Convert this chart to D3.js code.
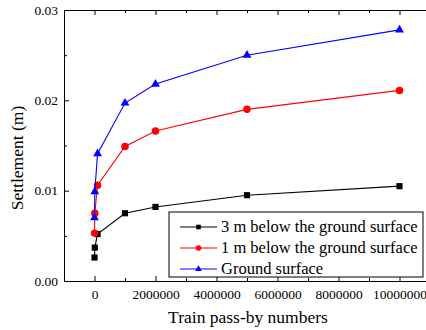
<!DOCTYPE html>
<html>
<head>
<meta charset="utf-8">
<script src="https://cdn.jsdelivr.net/npm/d3@7"></script>
<style>
  body { margin: 0; background: #fff; }
</style>
</head>
<body>
<div id="chart-area"></div>
<script>
// data
const passes = [1000, 10000, 100000, 1000000, 2000000, 5000000, 10000000];
const below3m = [0.0026, 0.0037, 0.0052, 0.0075, 0.0082, 0.0095, 0.0105];
const below1m = [0.0053, 0.0075, 0.0106, 0.0149, 0.0166, 0.0190, 0.0211];
const ground = [0.0070, 0.0099, 0.0141, 0.0197, 0.0218, 0.0250, 0.0278];
const seriesNames = ['3 m below the ground surface', '1 m below the ground surface', 'Ground surface'];
const seriesColors = ['#000000', '#ff0000', '#0000ff'];
const seriesShapes = ['square', 'circle', 'triangle'];
const xTicks = [0, 2000000, 4000000, 6000000, 8000000, 10000000];
const xMinorTicks = [-1000000, 1000000, 3000000, 5000000, 7000000, 9000000, 11000000];
const yTicks = [0, 0.01, 0.02, 0.03];
const yMinorTicks = [0.005, 0.015, 0.025];

const width = 426;
const height = 330;
const margin = { left: 64, right: -4, top: 10, bottom: 49 };
const chartWidth = width - margin.left - margin.right;
const chartHeight = height - margin.top - margin.bottom;

const svg = d3.select('#chart-area')
    .append('svg')
    .attr('width', width)
    .attr('height', height);

const chartGroup = svg.append('g')
    .attr('transform', `translate(${margin.left}, ${margin.top})`);

// Scales
const x = d3.scaleLinear()
    .domain([-1000000, 11000000])
    .range([0, chartWidth]);

const y = d3.scaleLinear()
    .domain([0, 0.03])
    .range([chartHeight, 0]);

// Axes (ticks pointing inward)
chartGroup.append('g')
    .attr('transform', `translate(0, ${chartHeight})`)
    .call(d3.axisBottom(x).tickValues(xTicks).tickSizeInner(-5).tickSizeOuter(0)
        .tickPadding(8).tickFormat(d3.format('d')));

chartGroup.append('g')
    .attr('transform', `translate(0, ${chartHeight})`)
    .call(d3.axisBottom(x).tickValues(xMinorTicks).tickSizeInner(-3).tickSizeOuter(0).tickFormat(''))
    .call((g) => g.select('.domain').remove());

chartGroup.append('g')
    .call(d3.axisLeft(y).tickValues(yTicks).tickSizeInner(-5).tickSizeOuter(0)
        .tickPadding(6).tickFormat(d3.format('.2f')));

chartGroup.append('g')
    .call(d3.axisLeft(y).tickValues(yMinorTicks).tickSizeInner(-3).tickSizeOuter(0).tickFormat(''))
    .call((g) => g.select('.domain').remove());

// Top mirror axis
chartGroup.append('g')
    .call(d3.axisTop(x).tickValues(xTicks).tickSizeInner(-5).tickSizeOuter(0).tickFormat(''));
chartGroup.append('g')
    .call(d3.axisTop(x).tickValues(xMinorTicks).tickSizeInner(-3).tickSizeOuter(0).tickFormat(''))
    .call((g) => g.select('.domain').remove());

// drop the sans-serif attribute d3 puts on axis groups
chartGroup.selectAll('g').attr('font-family', null).attr('font-size', null);
chartGroup.selectAll('.tick text')
    .style('font-family', '"Liberation Serif"')
    .style('font-size', '13.5px')
    .attr('fill', '#000');
chartGroup.selectAll('.domain, .tick line')
    .attr('stroke', '#000');

// Labels
svg.append('text')
    .attr('x', 248)
    .attr('y', 323)
    .attr('text-anchor', 'middle')
    .style('font-family', '"Liberation Serif"')
    .style('font-size', '17.5px')
    .text('Train pass-by numbers');

svg.append('text')
    .attr('text-anchor', 'middle')
    .attr('transform', 'translate(23, 158) rotate(-90)')
    .style('font-family', '"Liberation Serif"')
    .style('font-size', '17.5px')
    .text('Settlement (m)');

// Series
const allSeries = [below3m, below1m, ground];

const symbolType = {
    square: d3.symbolSquare,
    circle: d3.symbolCircle,
    triangle: d3.symbolTriangle
};
const symbolSize = { square: 38, circle: 44, triangle: 34 };

const line = d3.line()
    .x((d) => x(d.p))
    .y((d) => y(d.v));

allSeries.forEach((values, i) => {
    const points = passes.map((p, j) => ({ p: p, v: values[j] }));
    chartGroup.append('path')
        .datum(points)
        .attr('fill', 'none')
        .attr('stroke', seriesColors[i])
        .attr('stroke-width', 1.1)
        .attr('d', line);

    chartGroup.selectAll(`.pt-${i}`)
        .data(points)
        .enter()
        .append('path')
        .attr('class', `pt-${i}`)
        .attr('transform', (d) => `translate(${x(d.p)}, ${y(d.v)})`)
        .attr('d', d3.symbol().type(symbolType[seriesShapes[i]]).size(symbolSize[seriesShapes[i]]))
        .attr('fill', seriesColors[i]);
});

// Legend
const legend = svg.append('g')
    .attr('transform', 'translate(169, 212)');

legend.append('rect')
    .attr('width', 254)
    .attr('height', 65)
    .attr('fill', '#fff')
    .attr('stroke', '#000')
    .attr('stroke-width', 1);

seriesNames.forEach((name, i) => {
    const row = legend.append('g')
        .attr('transform', `translate(0, ${15 + i * 21})`);

    row.append('line')
        .attr('x1', 11)
        .attr('x2', 48)
        .attr('stroke', seriesColors[i])
        .attr('stroke-width', 1.1);

    row.append('path')
        .attr('transform', 'translate(29.5, 0)')
        .attr('d', d3.symbol().type(symbolType[seriesShapes[i]]).size(symbolSize[seriesShapes[i]] * 0.55))
        .attr('fill', seriesColors[i]);

    row.append('text')
        .attr('x', 52)
        .attr('y', 5)
        .style('font-family', '"Liberation Serif"')
        .style('font-size', '16.5px')
        .text(name);
});
</script>
</body>
</html>
